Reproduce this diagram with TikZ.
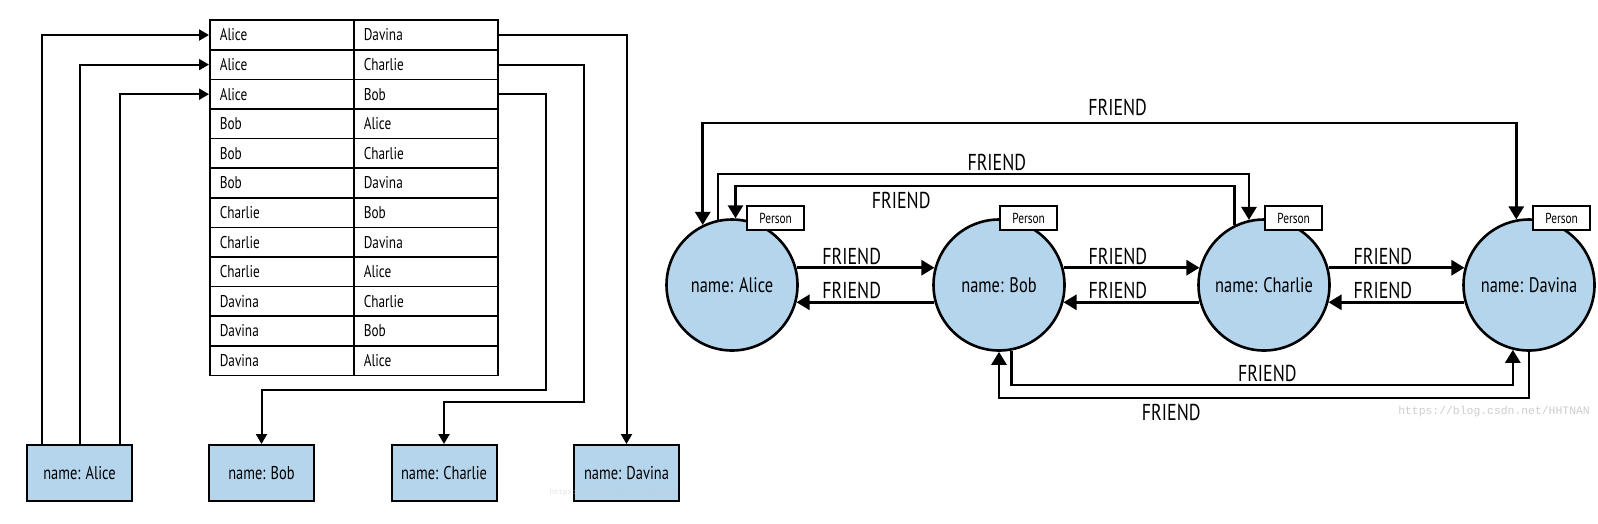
\documentclass[tikz,border=0pt]{standalone}
\usepackage{fontspec}
\setmainfont{PT Sans}[FakeStretch=0.78]
\newfontfamily\wmfont{Liberation Mono}
\usetikzlibrary{arrows.meta}
\definecolor{nodeblue}{RGB}{180,213,236}
\definecolor{wmgray}{RGB}{205,205,205}
\tikzset{
  cell/.style={draw, line width=1.6pt, anchor=north west, minimum width=144pt,
    minimum height=29.6pt, text width=124pt, align=left, inner xsep=10pt,
    inner ysep=0pt, font=\fontsize{17}{20}\selectfont},
  namebox/.style={draw, fill=nodeblue, line width=2pt, minimum width=105pt,
    minimum height=56pt, inner sep=0pt, font=\fontsize{18.5}{22}\selectfont},
  tabarrow/.style={line width=2pt, -{Triangle[length=10pt,width=11pt]}},
  person/.style={circle, draw, fill=nodeblue, line width=2.6pt, minimum size=131pt,
    inner sep=0pt, font=\fontsize{21}{25}\selectfont},
  tag/.style={draw, fill=white, line width=2.2pt, minimum width=57pt,
    minimum height=24pt, inner sep=0pt, font=\fontsize{14.5}{17}\selectfont},
  rel/.style={line width=2.7pt, -{Triangle[length=13pt,width=15pt]}},
  relboth/.style={line width=2.7pt, {Triangle[length=13pt,width=15pt]}-{Triangle[length=13pt,width=15pt]}},
  lbl/.style={above, inner sep=2pt, font=\fontsize{23}{27}\selectfont},
  wm/.style={text=wmgray, inner sep=0pt}
}
\begin{document}
\begin{tikzpicture}[x=1pt,y=-1pt]
\useasboundingbox (0,0) rectangle (1598,523);

\foreach \from/\to [count=\i] in {Alice/Davina, Alice/Charlie, Alice/Bob,
    Bob/Alice, Bob/Charlie, Bob/Davina, Charlie/Bob, Charlie/Davina,
    Charlie/Alice, Davina/Charlie, Davina/Bob, Davina/Alice}{
  \node[cell] (l\i) at (209,{19.4+29.6*(\i-1)}) {\from};
  \node[cell] (r\i) at (353,{19.4+29.6*(\i-1)}) {\to};
}

\node[namebox] (boxA) at (79.5,473) {name: Alice};
\node[namebox] (boxB) at (261.5,473) {name: Bob};
\node[namebox] (boxC) at (444,473) {name: Charlie};
\node[namebox] (boxD) at (626.5,473) {name: Davina};

\coordinate (bendB) at (546,390);
\coordinate (bendC) at (584,402);
\draw[tabarrow] ([xshift=-38pt]boxA.north) |- (l1.west);
\draw[tabarrow] (boxA.north) |- (l2.west);
\draw[tabarrow] ([xshift=40pt]boxA.north) |- (l3.west);
\draw[tabarrow] (r1.east) -| (boxD.north);
\draw[tabarrow] (r2.east) -| (bendC) -| (boxC.north);
\draw[tabarrow] (r3.east) -| (bendB) -| (boxB.north);

\node[person] (a) at (732,285) {name: Alice};
\node[person] (b) at (999,285) {name: Bob};
\node[person] (c) at (1264,285) {name: Charlie};
\node[person] (d) at (1529,285) {name: Davina};
\node[tag, anchor=west] (ta) at ([xshift=14pt]a.north) {Person};
\node[tag, anchor=west] (tb) at ([xshift=0pt]b.north) {Person};
\node[tag, anchor=west] (tc) at ([xshift=0pt]c.north) {Person};
\node[tag, anchor=west] (td) at ([xshift=3pt]d.north) {Person};

\draw[rel] (a.15) -- node[lbl, pos=.4] {FRIEND} (b.165);
\draw[rel] (b.-165) -- node[lbl, pos=.6] {FRIEND} (a.-15);
\draw[rel] (b.15) -- node[lbl, pos=.4] {FRIEND} (c.165);
\draw[rel] (c.-165) -- node[lbl, pos=.6] {FRIEND} (b.-15);
\draw[rel] (c.15) -- node[lbl, pos=.4] {FRIEND} (d.165);
\draw[rel] (d.-165) -- node[lbl, pos=.6] {FRIEND} (c.-15);

\coordinate (lvl1) at (0,123);
\coordinate (lvl2) at (0,174);
\coordinate (lvl3) at (0,186);
\coordinate (lvl4) at (0,385);
\coordinate (lvl5) at (0,398);
\draw[relboth] (a.116) -- (a.116 |- lvl1) -- node[lbl, inner sep=6pt, pos=.51] {FRIEND} (d.101 |- lvl1) -- (d.101);
\draw[rel] (a.102) -- (a.102 |- lvl2) -- node[lbl, pos=.525] {FRIEND} (c.103 |- lvl2) -- (c.103);
\draw[rel] (c.116) -- (c.116 |- lvl3) -- node[lbl, below, inner sep=5pt, pos=.668] {FRIEND} (a.87 |- lvl3) -- (a.87);
\draw[rel] (b.-79) -- (b.-79 |- lvl4) -- node[lbl, pos=.51] {FRIEND} (d.-104 |- lvl4) -- (d.-104);
\draw[rel] (d.south) -- (d.south |- lvl5) -- node[lbl, below, inner sep=5pt, pos=.675] {FRIEND} (b.south |- lvl5) -- (b.south);

\node[wm, anchor=east, font=\wmfont\fontsize{11.4}{13}\selectfont] (wmR) at (1590,412) {https://blog.csdn.net/HHTNAN};
\node[wm, text opacity=.6, font=\wmfont\fontsize{7.4}{9}\selectfont] (wmL) at (612,493) {https://blog.csdn.net/HHTNAN};
\end{tikzpicture}
\end{document}
